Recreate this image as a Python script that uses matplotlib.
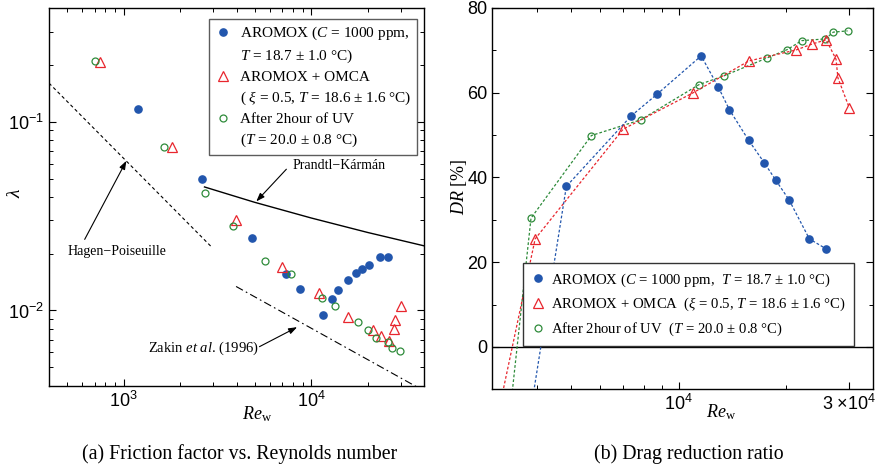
import numpy as np
import matplotlib
matplotlib.use("Agg")
import matplotlib.pyplot as plt
from matplotlib.lines import Line2D
from matplotlib.ticker import LogLocator, FixedLocator, FixedFormatter, MultipleLocator, NullFormatter

plt.rcParams['font.family'] = ['Liberation Sans', 'DejaVu Sans']
plt.rcParams['mathtext.fontset'] = 'custom'
plt.rcParams['mathtext.rm'] = 'Liberation Serif'
plt.rcParams['mathtext.it'] = 'Liberation Serif:italic'
plt.rcParams['mathtext.bf'] = 'Liberation Serif:bold'

# ---------------- data ----------------
# AROMOX (blue)
blue_re = [1200, 2610, 4840, 7350, 8680, 11560, 12920, 13870, 15700, 17400, 18700, 20400, 23250, 25850]
blue_lam = [0.117, 0.0494, 0.0243, 0.0156, 0.0130, 0.0095, 0.0115, 0.0129, 0.0145, 0.0157, 0.0165, 0.0174, 0.0192, 0.0193]
blue_dr = [np.nan, -104, 37.9, 54.5, 59.6, 68.7, 61.3, 56.0, 48.8, 43.4, 39.4, 34.7, 25.5, 23.2]

# AROMOX + OMCA (red)
red_re = [745, 1817, 3956, 6985, 10980, 15730, 21350, 23670, 25920, 27620, 27960, 30100]
red_lam = [0.207, 0.0731, 0.0300, 0.01694, 0.01241, 0.00918, 0.00789, 0.00728, 0.00685, 0.0080, 0.00892, 0.01055]
red_dr = [np.nan, -109, 25.5, 51.4, 60.0, 67.5, 70.1, 71.5, 72.5, 67.9, 63.5, 56.4]

# After 2 hour of UV (green)
green_re = [700, 1648, 2723, 3852, 5690, 7820, 11390, 13400, 17680, 20170, 22130, 25770, 27130, 29760]
green_lam = [0.2095, 0.0736, 0.0418, 0.0280, 0.01834, 0.01563, 0.01158, 0.01059, 0.00871, 0.00789, 0.00716, 0.00683, 0.00635, 0.00610]
green_dr = [np.nan, np.nan, -87, 30.4, 49.9, 53.6, 61.9, 64.0, 68.2, 70.2, 72.3, 72.7, 74.3, 74.6]

# reference curves
hp_re = [400, 2930]
hp_lam = [0.16, 0.0218]
pk_re = [2700, 5000, 10000, 20000, 40000]
pk_lam = [0.0451, 0.0374, 0.0309, 0.0259, 0.0220]
zk_re = [3980, 40000]
zk_lam = [0.0134, 0.00375]

BLUE = '#2256ad'
RED = '#e8262e'
GREEN = '#2e8b3a'

W, H = 896, 466
fig = plt.figure(figsize=(W / 100, H / 100), dpi=100)

def rect(x0, y0, x1, y1):
    return [x0 / W, 1 - y1 / H, (x1 - x0) / W, (y1 - y0) / H]

serif = ['Liberation Serif', 'DejaVu Serif']

# ---------------- panel (a) ----------------
ax1 = fig.add_axes(rect(49, 8, 424, 385.6))
ax1.set_xscale('log')
ax1.set_yscale('log')
ax1.set_xlim(400, 40000)
ax1.set_ylim(0.004, 0.4)

ax1.plot(hp_re, hp_lam, color='black', lw=0.8, ls=(0, (3, 2.5)))
ax1.plot(pk_re, pk_lam, color='black', lw=1.0, ls='-')
ax1.plot(zk_re, zk_lam, color='black', lw=0.8, ls=(0, (7, 3, 1.5, 3)))

ax1.plot(blue_re, blue_lam, 'o', color=BLUE, ms=5.2, mec=BLUE, ls='none', zorder=3)
ax1.plot(red_re, red_lam, '^', mfc='none', mec=RED, ms=7, mew=0.9, ls='none', zorder=3)
ax1.plot(green_re, green_lam, 'o', mfc='none', mec=GREEN, ms=5, mew=0.9, ls='none', zorder=3)

arrow = dict(arrowstyle='-|>,head_length=0.5,head_width=0.18', color='black', lw=0.8, shrinkA=0, shrinkB=0)
ax1.annotate('', xy=(5100, 0.0378), xytext=(7380, 0.0560), arrowprops=arrow)
ax1.text(14150, 0.0588, 'Prandtl\u2212Kármán', family=serif, fontsize=10, ha='center', va='center')
ax1.annotate('', xy=(1034, 0.0620), xytext=(620, 0.0238), arrowprops=arrow)
ax1.text(918, 0.0205, 'Hagen\u2212Poiseuille', family=serif, fontsize=10, ha='center', va='center')
ax1.annotate('', xy=(8420, 0.00816), xytext=(5302, 0.00643), arrowprops=arrow)
ax1.text(2667, 0.00631, 'Zakin $\\mathit{et\\ al}$. (1996)', family=serif, fontsize=10.5, ha='center', va='center')

ax1.xaxis.set_major_locator(LogLocator(base=10, numticks=10))
ax1.xaxis.set_minor_locator(LogLocator(base=10, subs=np.arange(2, 10), numticks=20))
ax1.yaxis.set_major_locator(LogLocator(base=10, numticks=10))
ax1.yaxis.set_minor_locator(LogLocator(base=10, subs=np.arange(2, 10), numticks=20))
ax1.xaxis.set_minor_formatter(NullFormatter())
ax1.yaxis.set_minor_formatter(NullFormatter())

leg1_handles = [
    Line2D([], [], marker='o', color=BLUE, ls='none', ms=5.2),
    Line2D([], [], ls='none'),
    Line2D([], [], marker='^', mfc='none', mec=RED, ls='none', ms=7, mew=0.9),
    Line2D([], [], ls='none'),
    Line2D([], [], marker='o', mfc='none', mec=GREEN, ls='none', ms=5, mew=0.9),
    Line2D([], [], ls='none'),
]
leg1_labels = [
    'AROMOX ($\\mathit{C}$ = 1000 ppm,',
    '$\\mathit{T}$ = 18.7 ± 1.0 °C)',
    'AROMOX + OMCA',
    '( $\\xi$ = 0.5, $\\mathit{T}$ = 18.6 ± 1.6 °C)',
    'After 2hour of UV',
    '($\\mathit{T}$ = 20.0 ± 0.8 °C)',
]
leg1 = ax1.legend(leg1_handles, leg1_labels, loc='upper right', bbox_to_anchor=(0.9805, 0.9709),
                  borderaxespad=0, frameon=True, fancybox=False, edgecolor='#333333',
                  prop={'family': serif, 'size': 11}, handlelength=1.0, handletextpad=0.6,
                  labelspacing=0.36, borderpad=0.38)
leg1.get_frame().set_linewidth(1.0)

# ---------------- panel (b) ----------------
ax2 = fig.add_axes(rect(492.3, 8, 872.7, 389.3))
ax2.set_xscale('log')
ax2.set_xlim(3000, 35000)
ax2.set_ylim(-10, 80)
ax2.axhline(0, color='black', lw=1.0, zorder=1)

lsd = (0, (2.2, 1.6))
ax2.plot(green_re, green_dr, ls=lsd, color=GREEN, lw=0.9, marker='o', mfc='none', mec=GREEN, ms=5, mew=0.9)
ax2.plot(red_re, red_dr, ls=lsd, color=RED, lw=0.9, marker='^', mfc='none', mec=RED, ms=7, mew=0.9)
ax2.plot(blue_re, blue_dr, ls=lsd, color=BLUE, lw=0.9, marker='o', mfc=BLUE, mec=BLUE, ms=5.2)

ax2.xaxis.set_major_locator(FixedLocator([10000, 30000]))
ax2.xaxis.set_major_formatter(FixedFormatter(['$\\mathdefault{10^{4}}$', '$\\mathdefault{3\\,\\times\\!10^{4}}$']))
ax2.xaxis.set_minor_locator(FixedLocator([4000, 5000, 6000, 7000, 8000, 9000, 20000]))
ax2.xaxis.set_minor_formatter(NullFormatter())
ax2.yaxis.set_major_locator(MultipleLocator(20))
ax2.yaxis.set_minor_locator(MultipleLocator(10))

leg2_handles = [
    Line2D([], [], marker='o', color=BLUE, ls='none', ms=5.2),
    Line2D([], [], marker='^', mfc='none', mec=RED, ls='none', ms=7, mew=0.9),
    Line2D([], [], marker='o', mfc='none', mec=GREEN, ls='none', ms=5, mew=0.9),
]
leg2_labels = [
    'AROMOX ($\\mathit{C}$ = 1000 ppm,  $\\mathit{T}$ = 18.7 ± 1.0 °C)',
    'AROMOX + OMCA  ($\\xi$ = 0.5, $\\mathit{T}$ = 18.6 ± 1.6 °C)',
    'After 2hour of UV  ($\\mathit{T}$ = 20.0 ± 0.8 °C)',
]
leg2 = ax2.legend(leg2_handles, leg2_labels, loc='upper left', bbox_to_anchor=(0.0815, 0.3305),
                  borderaxespad=0, frameon=True, fancybox=False, edgecolor='#333333', framealpha=1,
                  prop={'family': serif, 'size': 10.6}, handlelength=0.9, handletextpad=0.4,
                  labelspacing=0.5, borderpad=0.55)
leg2.get_frame().set_linewidth(1.0)

for ax in (ax1, ax2):
    ax.tick_params(which='both', direction='in', top=True, right=True, labelsize=13)
    ax.tick_params(which='major', length=5, width=0.8)
    ax.tick_params(which='minor', length=3, width=0.7)
    for s in ax.spines.values():
        s.set_linewidth(1.0)

# axis labels
fig.text(15 / W, 1 - 193 / H, '$\\lambda$', fontsize=14, rotation=90, ha='center', va='center')
fig.text(257 / W, 1 - 414 / H, '$\\mathit{Re}_{\\mathrm{w}}$', fontsize=13, ha='center', va='center')
fig.text(721 / W, 1 - 412 / H, '$\\mathit{Re}_{\\mathrm{w}}$', fontsize=13, ha='center', va='center')
fig.text(459 / W, 1 - 187 / H, '$\\mathit{DR}$ [%]', family=serif, fontsize=13, rotation=90, ha='center', va='center')

# captions
fig.text(240 / W, 1 - 454 / H, '(a) Friction factor vs. Reynolds number', family=serif, fontsize=14.3, ha='center', va='center')
fig.text(689 / W, 1 - 454 / H, '(b) Drag reduction ratio', family=serif, fontsize=14.3, ha='center', va='center')

fig.savefig('out.png', dpi=100)
